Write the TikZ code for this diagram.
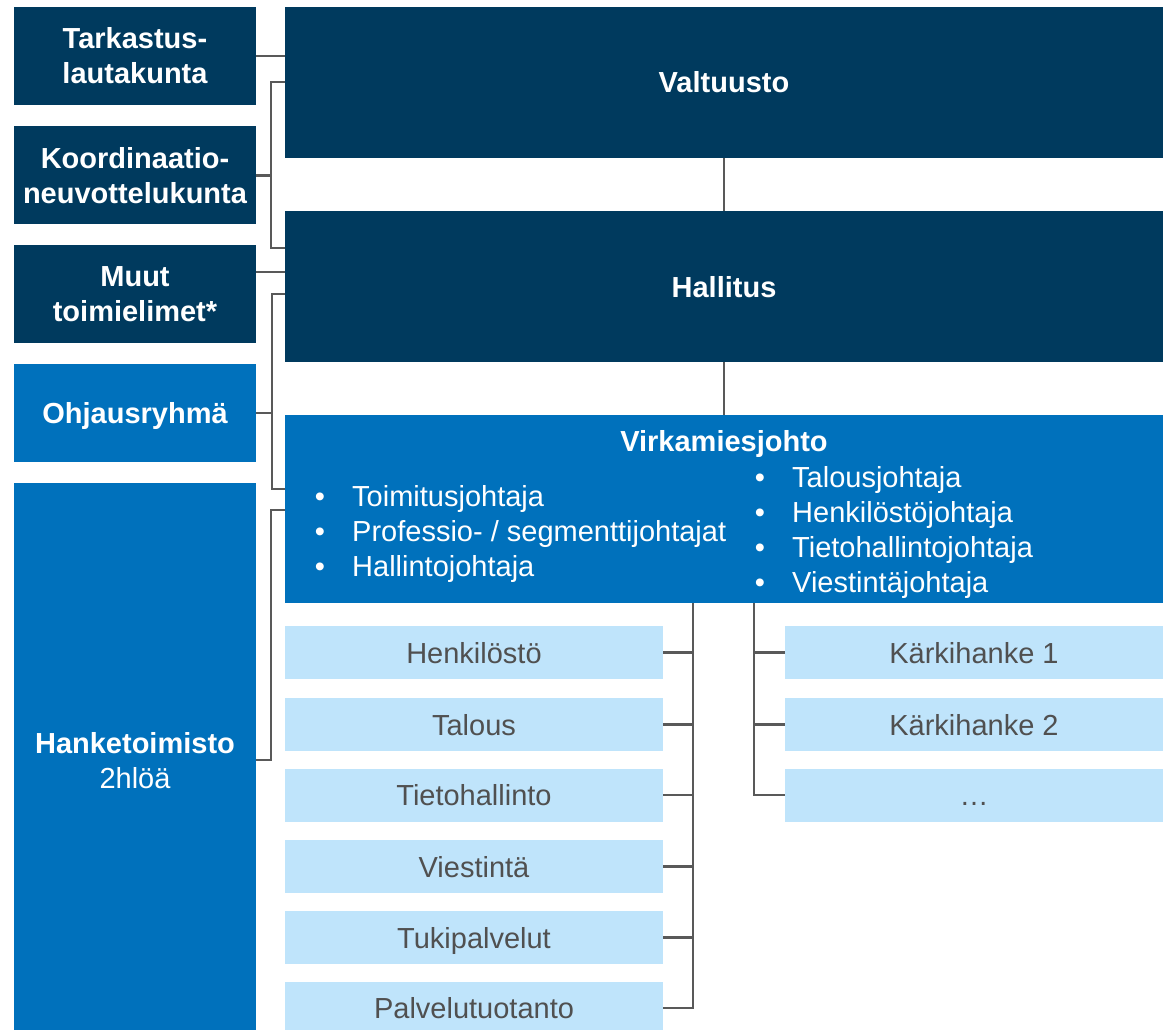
\documentclass[tikz,border=0pt]{standalone}
\usepackage{fontspec}
\setmainfont{Liberation Sans}
\definecolor{navy}{HTML}{003A5E}
\definecolor{midblue}{HTML}{0071BC}
\definecolor{lightblue}{HTML}{BFE4FB}
\definecolor{linegray}{HTML}{595959}
\definecolor{textgray}{HTML}{505050}
\tikzset{
  txt/.style={font=\fontsize{29pt}{35pt}\selectfont, inner sep=0pt, align=center},
  boldtxt/.style={font=\fontsize{29pt}{35pt}\selectfont\bfseries, inner sep=0pt, align=center},
  leftbox/.style={boldtxt, fill=#1, text=white, minimum width=242pt, minimum height=98pt},
  leftbox/.default=navy,
  mainbox/.style={boldtxt, fill=navy, text=white, minimum width=878pt, minimum height=151pt, text height=21pt, text depth=0pt},
  lightbox/.style={txt, fill=lightblue, text=textgray, minimum width=378pt, minimum height=53pt, text height=21pt, text depth=0pt},
  conn/.style={draw=linegray, line width=2.5pt},
  bul/.style={txt, text=white, anchor=base},
  itemtxt/.style={txt, text=white, anchor=base west}
}
\begin{document}
\begin{tikzpicture}[x=1pt, y=-1pt]
\fill[white] (0,0) rectangle (1163,1030);
\useasboundingbox (0,0) rectangle (1163,1030);

% left column
\node[leftbox] (tark) at (135,56) {Tarkastus-\\lautakunta};
\node[leftbox] (koord) at (135,175.5) {Koordinaatio-\\neuvottelukunta};
\node[leftbox] (muut) at (135,294) {Muut\\toimielimet*};
\node[leftbox=midblue, text height=21pt, text depth=0pt] (ohj) at (135,413) {Ohjausryhmä};
\node[leftbox=midblue, minimum height=547pt] (hanke) at (135,756.5) {};
\node[boldtxt, text=white, anchor=base] (hanket) at (135,753) {Hanketoimisto};
\node[txt, text=white, anchor=base] (hankeh) at (135,788) {2hlöä};

% main column
\node[mainbox] (valt) at (724,82.5) {Valtuusto};
\node[mainbox] (hall) at (724,286.5) {Hallitus};
\node[fill=midblue, inner sep=0pt, minimum width=878pt, minimum height=188pt] (virk) at (724,509) {};
\node[boldtxt, text=white, anchor=base] (virkt) at (724,451) {Virkamiesjohto};

\node[bul] (bl1) at (320,506) {•};
\node[bul] (bl2) at (320,541) {•};
\node[bul] (bl3) at (320,576) {•};
\node[itemtxt] (il1) at (352,506) {Toimitusjohtaja};
\node[itemtxt] (il2) at (352,541) {Professio- / segmenttijohtajat};
\node[itemtxt] (il3) at (352,576) {Hallintojohtaja};

\node[bul] (br1) at (760,487) {•};
\node[bul] (br2) at (760,522) {•};
\node[bul] (br3) at (760,557) {•};
\node[bul] (br4) at (760,592) {•};
\node[itemtxt] (ir1) at (792,487) {Talousjohtaja};
\node[itemtxt] (ir2) at (792,522) {Henkilöstöjohtaja};
\node[itemtxt] (ir3) at (792,557) {Tietohallintojohtaja};
\node[itemtxt] (ir4) at (792,592) {Viestintäjohtaja};

% light boxes
\node[lightbox] (l1) at (474,652.5) {Henkilöstö};
\node[lightbox] (l2) at (474,724.5) {Talous};
\node[lightbox] (l3) at (474,795) {Tietohallinto};
\node[lightbox] (l4) at (474,866.5) {Viestintä};
\node[lightbox] (l5) at (474,937.5) {Tukipalvelut};
\node[lightbox] (l6) at (474,1008) {Palvelutuotanto};
\node[lightbox] (r1) at (974,652.5) {Kärkihanke 1};
\node[lightbox] (r2) at (974,724.5) {Kärkihanke 2};
\node[lightbox] (r3) at (974,795) {…};

% connectors
\draw[conn] (valt.south) -- (hall.north);
\draw[conn] (hall.south) -- (virk.north);

\draw[conn] (tark.east) -- (tark.east -| valt.west);

\coordinate (ka) at (271,82);
\coordinate (kb) at (271,248);
\draw[conn] (valt.west |- ka) -- (ka) -- (kb) -- (hall.west |- kb);
\draw[conn] (koord.east) -- (koord.east -| ka);

\coordinate (mu) at (256,272);
\draw[conn] (muut.east |- mu) -- (hall.west |- mu);

\coordinate (oa) at (272,294);
\coordinate (ob) at (272,489);
\draw[conn] (hall.west |- oa) -- (oa) -- (ob) -- (virk.west |- ob);
\draw[conn] (ohj.east) -- (ohj.east -| oa);

\coordinate (ha) at (271,510);
\coordinate (hb) at (271,760);
\draw[conn] (virk.west |- ha) -- (ha) -- (hb) -- (hanke.east |- hb);

\coordinate (la) at (693,1008);
\draw[conn] (virk.south -| la) -- (la) -- (l6.east);
\foreach \n in {l1,l2,l3,l4,l5}
  \draw[conn] (\n.east) -- (\n.east -| la);

\coordinate (ra) at (754,795);
\draw[conn] (virk.south -| ra) -- (ra) -- (r3.west);
\foreach \n in {r1,r2}
  \draw[conn] (\n.west -| ra) -- (\n.west);
\end{tikzpicture}
\end{document}
